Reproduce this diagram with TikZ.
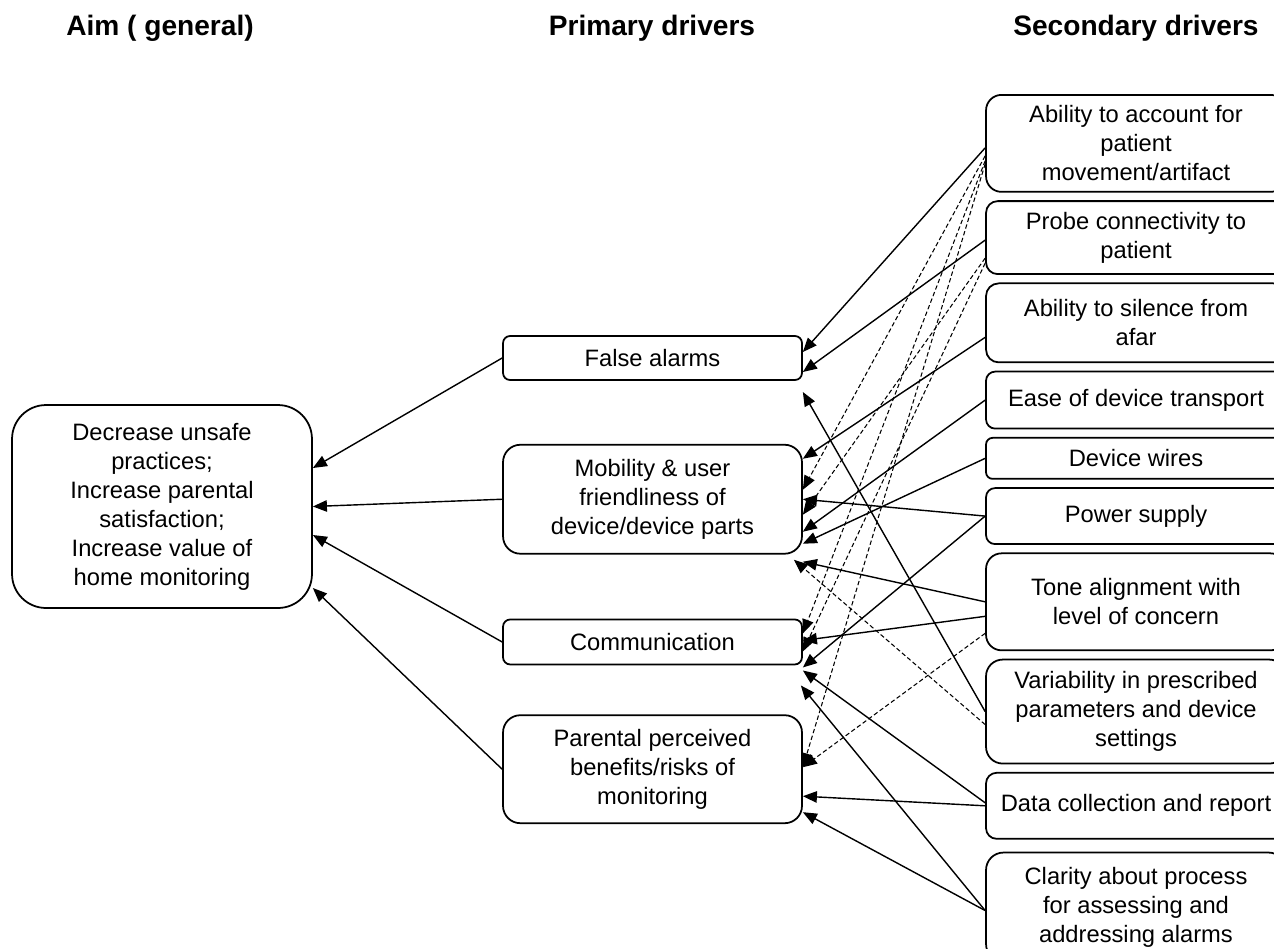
\documentclass[tikz,border=0pt]{standalone}
\usepackage{fontspec}
\setmainfont{Liberation Sans}
\usetikzlibrary{positioning}
\usetikzlibrary{arrows.meta}

\tikzset{
  box/.style={draw, line width=1pt, align=center, inner xsep=3pt, inner ysep=2pt,
    font=\fontsize{13.5}{16.5}\selectfont},
  prim/.style={box, minimum width=5.98cm, minimum height=#1cm, rounded corners=#1*0.16cm},
  sec/.style={box, minimum width=6cm, minimum height=#1cm, rounded corners=#1*0.16cm},
  head/.style={font=\fontsize{16}{19}\selectfont\bfseries},
  driver/.style={-{Triangle[length=8pt,width=6.5pt]}, line width=0.8pt},
  link/.style={driver, line width=0.6pt, dash pattern=on 2.5pt off 1.5pt}
}

\begin{document}
\begin{tikzpicture}[x=0.02cm, y=-0.02cm]
        \useasboundingbox (0,0) rectangle (1274,948);
        \clip (0,0) rectangle (1274,948);

        \node[head] (aimhead) at (160,28) {Aim ( general)};
        \node[head] (primhead) at (652,28) {Primary drivers};
        \node[head] (sechead) at (1136,28) {Secondary drivers};

        \node[box, minimum width=6cm, minimum height=4.06cm, rounded corners=0.68cm] (aim) at (162,506.5)
          {Decrease unsafe\\practices;\\Increase parental\\satisfaction;\\Increase value of\\home monitoring};

        \node[prim=0.88] (fa) at (652.5,358) {False alarms};
        \node[prim=2.18, below=1.26cm of fa] (mob) {Mobility \& user\\friendliness of\\device/device parts};
        \node[prim=0.90, below=1.28cm of mob] (comm) {Communication};
        \node[prim=2.16, below=0.98cm of comm] (par) {Parental perceived\\benefits/risks of\\monitoring};

        \node[sec=1.94, anchor=north] (acc) at (1136,94) {Ability to account for\\patient\\movement/artifact};
        \node[sec=1.46, below=0.15cm of acc] (probe) {Probe connectivity to\\patient};
        \node[sec=1.58, below=0.15cm of probe] (silence) {Ability to silence from\\afar};
        \node[sec=1.14, below=0.15cm of silence] (transport) {Ease of device transport};
        \node[sec=0.82, below=0.15cm of transport] (wires) {Device wires};
        \node[sec=1.12, below=0.15cm of wires] (power) {Power supply};
        \node[sec=1.94, below=0.15cm of power] (tone) {Tone alignment with\\level of concern};
        \node[sec=2.08, below=0.15cm of tone] (vari) {Variability in prescribed\\parameters and device\\settings};
        \node[sec=1.32, below=0.15cm of vari] (data) {Data collection and report};
        \node[sec=2.18, below=0.24cm of data] (clarity) {Clarity about process\\for assessing and\\addressing alarms};

        % primary drivers to aim
        \draw[driver] (fa.west) -- ([yshift=0.77cm]aim.east);
        \draw[driver] (mob.west) -- (aim.east);
        \draw[driver] (comm.west) -- ([yshift=-0.57cm]aim.east);
        \draw[driver] (par.west) -- ([yshift=-1.63cm]aim.east);

        % secondary drivers to primary drivers
        \draw[driver] ([yshift=-0.09cm]acc.west) -- ([yshift=0.12cm]fa.east);
        \draw[driver] ([yshift=-0.05cm]probe.west) -- ([yshift=-0.28cm]fa.east);
        \draw[driver] (vari.west) -- ([yshift=-0.68cm]fa.east);
        \draw[driver] ([yshift=-0.29cm]silence.west) -- ([yshift=0.81cm]mob.east);
        \draw[driver] (power.west) -- (mob.east);
        \draw[driver] (transport.west) -- ([yshift=-0.65cm]mob.east);
        \draw[driver] (wires.west) -- ([yshift=-0.89cm]mob.east);
        \draw[driver] (tone.west) -- ([yshift=-1.25cm]mob.east);
        \draw[driver] ([yshift=-0.29cm]tone.west) -- ([yshift=0.03cm]comm.east);
        \draw[driver] (power.west) -- ([yshift=-0.51cm]comm.east);
        \draw[driver] ([yshift=0.06cm]data.west) -- ([yshift=-0.57cm]comm.east);
        \draw[driver] ([yshift=-0.07cm]clarity.west) -- ([xshift=-0.04cm,yshift=-0.87cm]comm.east);
        \draw[driver] (data.west) -- ([yshift=-0.54cm]par.east);
        \draw[driver] ([yshift=-0.07cm]clarity.west) -- ([yshift=-0.86cm]par.east);

        % dashed links
        \draw[link] ([yshift=-0.25cm]acc.west) -- ([yshift=0.19cm]mob.east);
        \draw[link] ([yshift=-0.41cm]probe.west) -- ([yshift=-0.31cm]mob.east);
        \draw[link] ([yshift=-0.35cm]acc.west) -- ([yshift=0.17cm]comm.east);
        \draw[link] ([yshift=-0.51cm]probe.west) -- ([yshift=-0.19cm]comm.east);
        \draw[link] ([yshift=-0.41cm]acc.west) -- ([yshift=0.04cm]par.east);
        \draw[link] ([yshift=-0.63cm]tone.west) -- ([yshift=0.04cm]par.east);
        \draw[link] ([yshift=-0.26cm]vari.west) -- ([xshift=-0.18cm,yshift=-1.21cm]mob.east);
\end{tikzpicture}
\end{document}
